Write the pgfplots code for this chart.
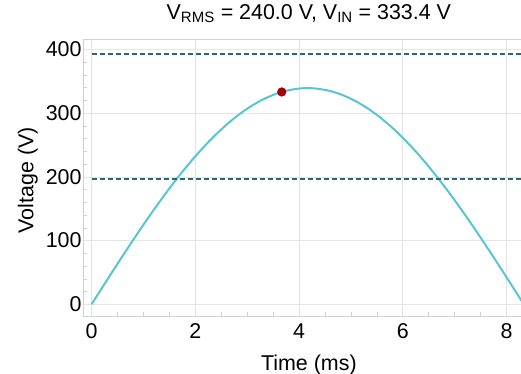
\documentclass[border=0pt]{standalone}
\usepackage{fontspec}
\setmainfont{Liberation Sans}
\usepackage{pgfplots}
\pgfplotsset{compat=1.18}
\definecolor{curvec}{HTML}{58C6D0}
\definecolor{dashc}{HTML}{2A6870}
\definecolor{dotc}{HTML}{A8000A}
\definecolor{gridc}{HTML}{E4E4E4}
\definecolor{framec}{HTML}{D0D0D0}
\begin{document}
\begin{tikzpicture}
\begin{axis}[
  scale only axis, width=438pt, height=277pt,
  xmin=-0.164, xmax=8.29, ymin=-18.9, ymax=416.5,
  xtick={0,2,4,6,8}, ytick={0,100,200,300,400},
  minor x tick num=3, minor y tick num=4,
  grid=major, major grid style={gridc, line width=0.8pt},
  axis line style={framec, line width=0.8pt},
  tick style={framec, line width=0.6pt},
  tick align=inside, major tick length=0pt, minor tick length=4pt,
  xtick pos=bottom, ytick pos=left,
  tick label style={font=\fontsize{21.4}{25}\selectfont, /pgf/number format/assume math mode=true},
  xticklabel style={yshift=-3.5pt},
  yticklabel style={xshift=2pt},
  title={V\textsubscript{RMS} = 240.0 V, V\textsubscript{IN} = 333.4 V},
  title style={font=\fontsize{21.4}{25}\selectfont, at={(axis description cs:0.515,1.0505)}, anchor=base},
  xlabel={Time (ms)},
  xlabel style={font=\fontsize{21.4}{25}\selectfont, at={(axis description cs:0.515,-0.195)}, anchor=base},
  ylabel={Voltage (V)},
  ylabel style={font=\fontsize{21.4}{25}\selectfont, at={(axis description cs:-0.1135,0.491)}, anchor=base},
]
\addplot[curvec, line width=2pt, smooth] coordinates {
(0,0) (0.25,31.94) (0.5,63.60) (0.75,94.69) (1.0,124.94) (1.25,154.08) (1.5,181.86)
(1.75,208.02) (2.0,232.34) (2.25,254.59) (2.5,274.58) (2.75,292.14) (3.0,307.10)
(3.25,319.33) (3.5,328.74) (3.75,335.22) (4.0,338.73) (4.1667,339.41)
(4.3333,338.73) (4.5833,335.22) (4.8333,328.74) (5.0833,319.33) (5.3333,307.10)
(5.5833,292.14) (5.8333,274.58) (6.0833,254.59) (6.3333,232.34) (6.5833,208.02)
(6.8333,181.86) (7.0833,154.08) (7.3333,124.94) (7.5833,94.69) (7.8333,63.60)
(8.0833,31.94) (8.3333,0)
};
\addplot[draw=dashc, line width=1.6pt, dash pattern=on 5pt off 3pt] coordinates {(0,197) (8.4,197)};
\addplot[draw=dashc, line width=1.6pt, dash pattern=on 5pt off 3pt] coordinates {(0,393) (8.4,393)};
\addplot[only marks, mark=*, mark size=4.3pt, mark options={fill=dotc, draw=dotc!80!black, line width=0.5pt}] coordinates {(3.667,333.4)};
\end{axis}
\pgfresetboundingbox
\path ([xshift=-83pt,yshift=-57pt]current axis.south west) rectangle ([xshift=-0.5pt,yshift=39pt]current axis.north east);
\end{tikzpicture}
\end{document}
